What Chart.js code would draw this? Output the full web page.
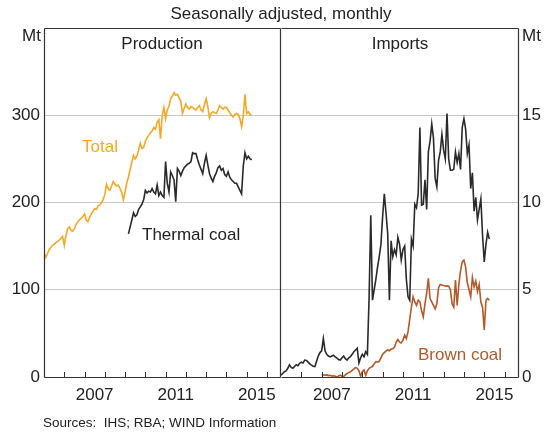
<!DOCTYPE html>
<html>
<head>
<meta charset="utf-8">
<script src="https://cdn.jsdelivr.net/npm/chart.js@4.4.0/dist/chart.umd.min.js"></script>
<style>
  body { margin: 0; background: #fff; }
  #wrap { position: relative; width: 554px; height: 433px; font-family: "Liberation Sans", Arial, sans-serif; color: #222; }
  canvas { position: absolute; top: 0; }
  #prodChart { left: 0; }
  #impChart { left: 276px; }
  .lbl { position: absolute; font-size: 17px; line-height: 17px; white-space: nowrap; }
  .mid { transform: translateX(-50%); }
</style>
</head>
<body>
<div id="wrap">
  <canvas id="prodChart" width="284" height="433"></canvas>
  <canvas id="impChart" width="278" height="433"></canvas>

  <div class="lbl mid" style="left:281px; top:5px;">Seasonally adjusted, monthly</div>
  <div class="lbl" style="right:513px; top:27px;">Mt</div>
  <div class="lbl" style="left:522px; top:27px;">Mt</div>
  <div class="lbl mid" style="left:162px; top:35px;">Production</div>
  <div class="lbl mid" style="left:400px; top:35px;">Imports</div>
  <div class="lbl" style="left:82px; top:138px; color:#f7a823;">Total</div>
  <div class="lbl" style="left:142px; top:226px;">Thermal coal</div>
  <div class="lbl" style="left:418px; top:346px; color:#b5582a;">Brown coal</div>
  <div class="lbl" style="left:43px; top:416px; font-size:13.5px; line-height:13px;">Sources:&nbsp;&nbsp;IHS; RBA; WIND Information</div>
</div>

<script>
// Chart data (monthly, Mt)
const yearLabels = [2007, 2011, 2015];
const prodTicks = [0, 100, 200, 300];
const importTicks = [0, 5, 10, 15];

// Production: total, from Jan 2005
const totalStart = 2005;
const totalProduction = [
  143, 137, 141, 146, 148, 151, 152, 154, 155, 157, 159, 161,
  151, 162, 170, 172, 168, 167, 170, 175, 178, 180, 182, 184,
  187, 180, 178, 183, 187, 190, 193, 192, 196, 197, 200, 203,
  209, 221, 216, 214, 219, 224, 221, 219, 220, 216, 212, 203,
  212, 222, 229, 238, 246, 254, 250, 253, 260, 268, 262, 263,
  270, 274, 277, 280, 282, 286, 284, 292, 295, 273, 300, 309,
  296, 306, 310, 319, 322, 326, 323, 324, 320, 316, 302, 308,
  313, 309, 307, 310, 309, 307, 306, 309, 311, 306, 304, 312,
  319, 310, 297, 302, 304, 303, 302, 306, 311, 309, 307, 309,
  309, 306, 303, 300, 298, 301, 302, 301, 296, 287, 299, 324,
  302, 304, 301, 300
];

// Production: thermal coal, from Mar 2009
const thermalStart = 2009 + 2 / 12;
const thermalProduction = [
  164, 172, 180, 188, 184, 186, 192, 195, 198, 203,
  214, 211, 213, 212, 216, 212, 210, 220, 208, 212, 208, 206,
  247, 222, 212, 235, 231, 226, 201, 239, 236, 231, 236, 240,
  242, 244, 245, 247, 257, 256, 256, 249, 243, 238, 233, 245,
  254, 243, 233, 228, 224, 230, 234, 240, 242, 237, 239, 232,
  230, 235, 229, 226, 224, 222, 222, 218, 214, 210, 242, 257,
  250, 253, 250, 249
];

// Imports: thermal coal, from Jan 2005
const importStart = 2005;
const thermalImports = [
  0.1, 0.2, 0.3, 0.35, 0.5, 0.7, 0.55, 0.5, 0.6, 0.7, 0.65, 0.78,
  0.85, 0.8, 0.97, 0.95, 0.85, 0.75, 0.68, 0.62, 0.6, 0.9, 1.2, 1.4,
  1.5, 2.2, 1.5, 1.3, 1.2, 1.15, 1.2, 1.25, 1.15, 1.08, 1.0, 0.97,
  1.1, 1.2, 1.05, 0.97, 1.1, 1.16, 1.3, 1.45, 1.55, 1.65, 0.8, 1.1,
  1.3, 1.16, 1.45, 1.3, 4.5, 9.27, 4.4, 5.0, 5.6, 6.3, 6.9, 7.6,
  9.2, 10.5, 9.4, 8.2, 4.4, 7.8, 6.9, 7.3, 7.0, 8.0, 7.6, 6.7,
  7.3, 7.5, 5.6, 4.6, 4.4, 7.9, 7.5, 9.9, 9.7, 10.5, 14.3, 9.85,
  9.9, 11.3, 9.6, 12.9, 13.5, 14.5, 13.7, 11.4, 10.9, 12.4, 12.9, 13.9,
  13.0, 12.5, 15.1, 12.5, 11.85, 11.85, 11.9, 12.9, 12.3, 12.8, 11.9, 14.3,
  14.8, 14.2, 12.8, 13.3, 10.8, 11.7, 9.5, 10.3, 9.0, 9.6, 10.2, 8.1,
  6.6, 7.6, 8.3, 7.9
];

// Imports: brown coal, from Jan 2007
const brownStart = 2007;
const brownImports = [
  0.15, 0.12, 0.1, 0.12, 0.08, 0.1, 0.05, 0.07, 0.04, 0.0, 0.06, 0.1,
  0.05, 0.03, 0.12, 0.2, 0.25, 0.3, 0.38, 0.45, 0.55, 0.5, 0.36, 0.05,
  0.3, 0.4, 0.1, 0.35, 0.5, 0.55, 0.6, 0.75, 0.88, 0.85, 0.9, 1.1,
  1.3, 1.4, 1.5, 1.55, 1.5, 1.6, 1.62, 1.7, 2.0, 2.15, 2.0, 1.95,
  2.1, 2.4, 2.2, 2.6, 3.3, 4.0, 4.6, 4.3, 4.1, 4.4, 4.3, 3.8,
  3.45, 4.2, 4.8, 5.65, 4.5, 4.3, 4.1, 3.9, 4.2, 5.1, 5.3, 5.27,
  5.25, 5.2, 5.22, 5.2, 5.0, 4.2, 4.0, 5.55, 4.1, 5.3, 6.1, 6.6,
  6.7, 6.3, 5.4, 5.0, 4.6, 5.7, 5.17, 5.5, 4.9, 5.3, 4.3, 4.0,
  2.7, 4.4, 4.5, 4.4
];

const X_MIN = 2005;
const X_MAX = 2016.66;
const FONT = '"Liberation Sans", Arial, sans-serif';

const ORANGE = '#f7a823';
const BLACK = '#2a2a2a';
const BROWN = '#b5582a';

Chart.defaults.font.family = FONT;
Chart.defaults.color = '#222';

function toPoints(start, values) {
  return values.map((v, i) => ({ x: start + i / 12, y: v }));
}

function lineSet(label, start, values, color) {
  return {
    label: label,
    data: toPoints(start, values),
    borderColor: color,
    borderWidth: 1.6,
    pointRadius: 0,
    tension: 0,
    fill: false
  };
}

// Frame round the plot area, plus year ticks pointing inwards
const framePlugin = {
  id: 'frame',
  afterDatasetsDraw(chart, args, opts) {
    const { ctx, chartArea: a, scales } = chart;
    const x = scales.x;
    const l = Math.round(a.left) + 0.5, r = Math.round(a.right) + 0.5;
    const t = Math.round(a.top) + 0.5, b = Math.round(a.bottom) + 0.5;
    ctx.save();
    ctx.strokeStyle = '#333';
    ctx.lineWidth = 1.2;
    ctx.beginPath();
    ctx.moveTo(l, t); ctx.lineTo(r, t);
    ctx.moveTo(l, b); ctx.lineTo(r, b);
    if (opts.left !== false) { ctx.moveTo(l, t); ctx.lineTo(l, b); }
    if (opts.right !== false) { ctx.moveTo(r, t); ctx.lineTo(r, b); }
    ctx.stroke();
    ctx.lineWidth = 1;
    for (let yr = Math.floor(x.min) + 1; yr < x.max; yr++) {
      const px = Math.round(x.getPixelForValue(yr)) + 0.5;
      ctx.beginPath();
      ctx.moveTo(px, a.bottom);
      ctx.lineTo(px, a.bottom - 5);
      ctx.stroke();
    }
    ctx.restore();
  }
};

function xScale() {
  return {
    type: 'linear',
    min: X_MIN,
    max: X_MAX,
    afterBuildTicks: s => { s.ticks = yearLabels.map(y => ({ value: y + 0.5 })); },
    ticks: {
      callback: v => Math.floor(v),
      font: { size: 17 },
      color: '#222',
      padding: 8,
      maxRotation: 0,
      autoSkip: false
    },
    grid: { display: false, drawTicks: false },
    border: { display: false },
    afterFit: s => { s.height = 56; }
  };
}

function yScale(position, max, shown, width) {
  return {
    position: position,
    min: 0,
    max: max,
    afterBuildTicks: s => { s.ticks = shown.concat([max]).map(v => ({ value: v })); },
    ticks: {
      callback: v => shown.includes(v) ? v : '',
      font: { size: 17 },
      color: '#222',
      padding: 4
    },
    grid: {
      drawTicks: false,
      lineWidth: 1,
      color: c => (c.tick && (c.tick.value === 0 || c.tick.value === max)) ? 'rgba(0,0,0,0)' : '#c8c8c8'
    },
    border: { display: false },
    afterFit: s => { s.width = width; }
  };
}

function baseOptions(padding, yAxis, frame) {
  return {
    responsive: false,
    animation: false,
    layout: { padding: padding },
    plugins: { legend: { display: false }, tooltip: { enabled: false }, frame: frame },
    scales: { x: xScale(), y: yAxis }
  };
}

new Chart(document.getElementById('prodChart'), {
  type: 'line',
  data: {
    datasets: [
      lineSet('Total', totalStart, totalProduction, ORANGE),
      lineSet('Thermal coal', thermalStart, thermalProduction, BLACK)
    ]
  },
  options: baseOptions({ top: 28, right: 3, left: 0, bottom: 0 }, yScale('left', 400, prodTicks, 44), { left: true, right: true }),
  plugins: [framePlugin]
});

new Chart(document.getElementById('impChart'), {
  type: 'line',
  data: {
    datasets: [
      lineSet('Brown coal', brownStart, brownImports, BROWN),
      lineSet('Thermal coal', importStart, thermalImports, BLACK)
    ]
  },
  options: baseOptions({ top: 28, right: 0, left: 5, bottom: 0 }, yScale('right', 20, importTicks, 36), { left: false, right: true }),
  plugins: [framePlugin]
});
</script>
</body>
</html>
